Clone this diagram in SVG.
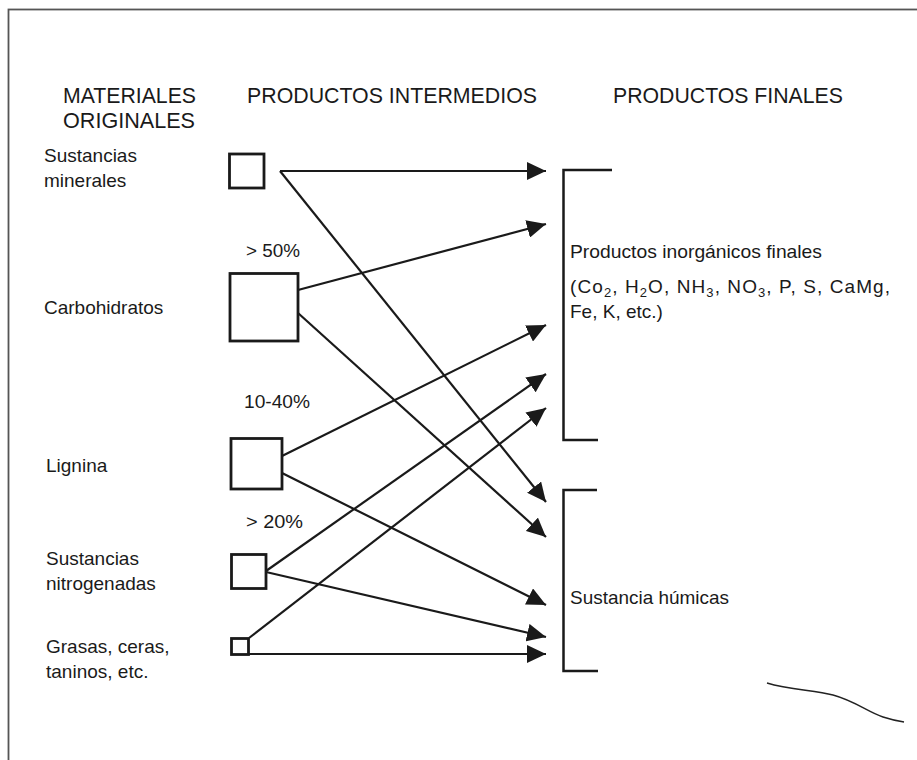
<svg xmlns="http://www.w3.org/2000/svg" width="917" height="760" viewBox="0 0 917 760">
<style>
text{font-family:"Liberation Sans",Arial,sans-serif;fill:#1a1a1a}
.h{font-size:22px}
.t{font-size:19px}
.r{font-size:19px}
.box{fill:#fff;stroke:#1a1a1a;stroke-width:2.8}
.c line{stroke:#1a1a1a;stroke-width:2.2;marker-end:url(#ah)}
.br{fill:none;stroke:#1a1a1a;stroke-width:2.5}
</style>
<defs>
<marker id="ah" markerUnits="userSpaceOnUse" markerWidth="20" markerHeight="18" refX="19" refY="9" orient="auto">
<path d="M0,0 L19,9 L0,18 Z" fill="#1a1a1a"/>
</marker>
</defs>
<rect x="0" y="0" width="917" height="760" fill="#fff"/>
<rect x="8.5" y="9.5" width="930" height="780" fill="none" stroke="#555" stroke-width="1.8"/>

<g id="headings">
<text class="h" x="63" y="103" textLength="133" lengthAdjust="spacingAndGlyphs">MATERIALES</text>
<text class="h" x="63" y="128" textLength="132" lengthAdjust="spacingAndGlyphs">ORIGINALES</text>
<text class="h" x="247" y="103" textLength="290" lengthAdjust="spacingAndGlyphs">PRODUCTOS INTERMEDIOS</text>
<text class="h" x="613" y="103" textLength="230" lengthAdjust="spacingAndGlyphs">PRODUCTOS FINALES</text>
</g>

<g id="labels">
<text class="t" x="44" y="162">Sustancias</text>
<text class="t" x="44" y="187">minerales</text>
<text class="t" x="44" y="314">Carbohidratos</text>
<text class="t" x="46" y="472">Lignina</text>
<text class="t" x="46" y="565">Sustancias</text>
<text class="t" x="46" y="590">nitrogenadas</text>
<text class="t" x="46" y="653">Grasas, ceras,</text>
<text class="t" x="46" y="678">taninos, etc.</text>
<text class="r" x="246" y="257" textLength="54" lengthAdjust="spacingAndGlyphs">&gt; 50%</text>
<text class="r" x="244" y="408" textLength="66" lengthAdjust="spacingAndGlyphs">10-40%</text>
<text class="r" x="246" y="528" textLength="57" lengthAdjust="spacingAndGlyphs">&gt; 20%</text>
</g>

<g id="n-minerales"><rect class="box" x="229.5" y="154" width="34.5" height="34"/></g>
<g id="n-carbohidratos"><rect class="box" x="230" y="273.5" width="68" height="67.5"/></g>
<g id="n-lignina"><rect class="box" x="231" y="438.5" width="51" height="50.5"/></g>
<g id="n-nitrogenadas"><rect class="box" x="231.5" y="554.5" width="34.5" height="34"/></g>
<g id="n-grasas"><rect class="box" x="231.5" y="638.5" width="17" height="16"/></g>

<g id="n-inorganicos">
<path class="br" d="M612,170 L563.5,170 L563.5,440 L598,440"/>
<text class="r" x="570" y="258" textLength="252" lengthAdjust="spacingAndGlyphs">Productos inorgánicos finales</text>
<text class="r" x="570" y="293" textLength="320" lengthAdjust="spacing">(Co<tspan font-size="13" dy="4">2</tspan><tspan dy="-4">, H</tspan><tspan font-size="13" dy="4">2</tspan><tspan dy="-4">O, NH</tspan><tspan font-size="13" dy="4">3</tspan><tspan dy="-4">, NO</tspan><tspan font-size="13" dy="4">3</tspan><tspan dy="-4">, P, S, CaMg,</tspan></text>
<text class="r" x="570" y="318">Fe, K, etc.)</text>
</g>

<g id="n-humicas">
<path class="br" d="M597,490 L563.5,490 L563.5,671 L598,671"/>
<text class="r" x="570" y="604" textLength="159" lengthAdjust="spacingAndGlyphs">Sustancia húmicas</text>
</g>

<g id="connectors" class="c">
<line x1="280" y1="171" x2="546" y2="171"/>
<line x1="280" y1="171" x2="546" y2="502"/>
<line x1="298" y1="290" x2="546" y2="224"/>
<line x1="298" y1="313" x2="546" y2="537"/>
<line x1="282" y1="456" x2="546" y2="325"/>
<line x1="282" y1="473" x2="546" y2="605"/>
<line x1="266" y1="571" x2="546" y2="374"/>
<line x1="266" y1="572" x2="546" y2="637"/>
<line x1="249" y1="638" x2="546" y2="408"/>
<line x1="249" y1="654" x2="546" y2="654"/>
</g>

<path d="M767,683 C790,690 815,690 833,695 C855,701 868,712 883,717 C892,720 898,721 904,722" fill="none" stroke="#222" stroke-width="1.4"/>
</svg>
